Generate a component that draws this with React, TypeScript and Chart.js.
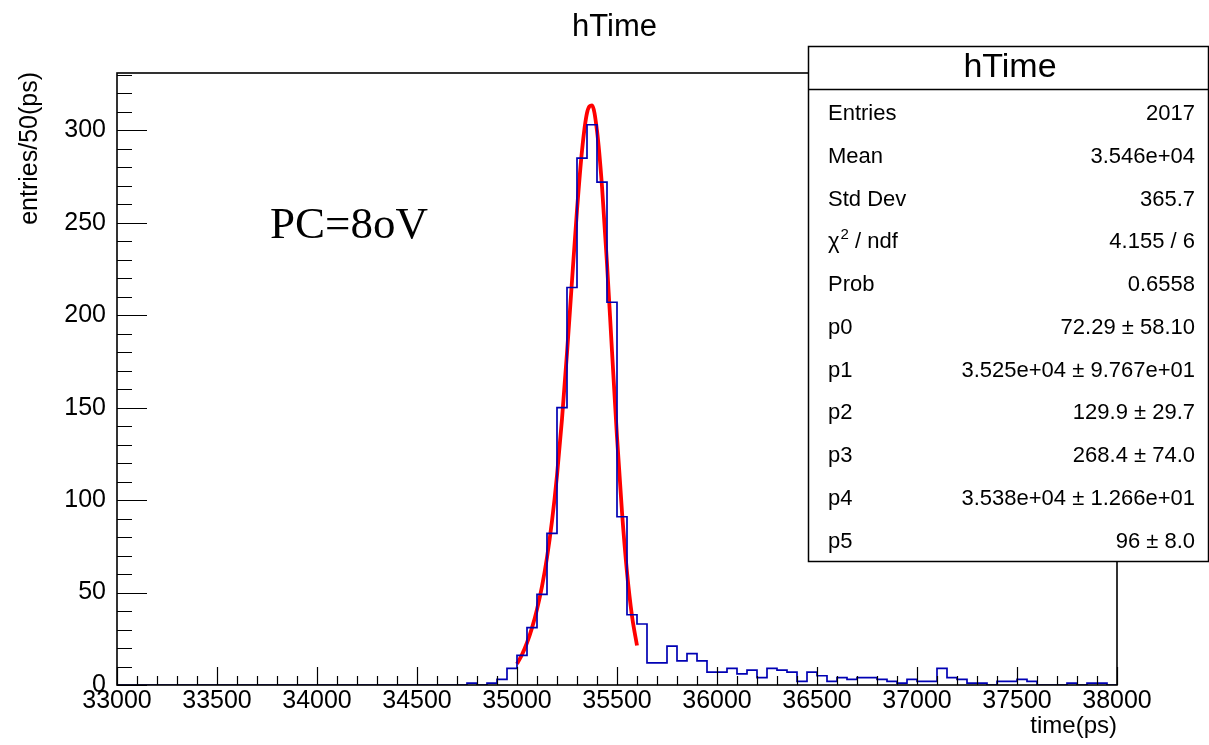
import React, { useEffect, useRef } from "react";
import { Chart, registerables } from "chart.js";

Chart.register(...registerables);

const X_MIN = 33000;
const X_MAX = 38000;
const BIN_WIDTH = 50;
const Y_MAX = 331;

const xTickValues = [33000, 33500, 34000, 34500, 35000, 35500, 36000, 36500, 37000, 37500, 38000];
const yTickValues = [0, 50, 100, 150, 200, 250, 300];

// entries per 50 ps bin, from 33000 to 38000
const binCounts = [
  0, 0, 0, 0, 0, 0, 0, 0, 0, 0,
  0, 0, 0, 0, 0, 0, 0, 0, 0, 0,
  0, 0, 0, 0, 0, 0, 0, 0, 0, 0,
  0, 0, 0, 0, 0, 1, 0, 1, 3, 9,
  16, 31, 49, 82, 150, 215, 285, 303, 272, 207,
  91, 38, 33, 12, 12, 21, 13, 17, 13, 7,
  7, 9, 6, 8, 4, 9, 8, 7, 2, 7,
  5, 2, 4, 3, 4, 4, 3, 2, 1, 3,
  2, 2, 9, 4, 3, 1, 1, 0, 2, 2,
  3, 2, 0, 0, 0, 1, 0, 1, 1, 0,
];

// fitted curve (red), sampled along the fit range
const fitX = [
  35000, 35025, 35050, 35075, 35100, 35125, 35150, 35175, 35200, 35225, 35250, 35275, 35300,
  35325, 35350, 35375, 35400, 35425, 35450, 35475, 35500, 35525, 35550, 35575, 35600,
];
const fitY = [
  11.45, 16.42, 22.83, 30.9, 40.93, 53.38, 68.98, 88.65, 113.4, 143.87, 179.57, 218.56, 256.81,
  288.98, 309.37, 313.54, 299.75, 269.66, 227.85, 180.62, 134.22, 93.47, 60.98, 37.26, 21.35,
];

const statLabels = ["Entries", "Mean", "Std Dev", "CHI2", "Prob", "p0", "p1", "p2", "p3", "p4", "p5"];
const statValues = [
  "2017",
  "3.546e+04",
  "365.7",
  "4.155 / 6",
  "0.6558",
  "72.29 ± 58.10",
  "3.525e+04 ± 9.767e+01",
  "129.9 ± 29.7",
  "268.4 ± 74.0",
  "3.538e+04 ± 1.266e+01",
  "96 ± 8.0",
];

const chartTitle = "hTime";
const xTitle = "time(ps)";
const yTitle = "entries/50(ps)";
const annotation = "PC=8oV";

const SANS = "'Liberation Sans', Arial, Helvetica, sans-serif";
const SERIF = "'Liberation Serif', 'Times New Roman', serif";

const rootPlugin = {
  id: "rootStyle",
  afterDatasetsDraw(chart: any) {
    const { ctx, chartArea: a, scales } = chart;
    const xs = scales.x;
    const ys = scales.y;
    ctx.save();
    ctx.strokeStyle = "#000";
    ctx.lineWidth = 1.2;
    ctx.beginPath();
    for (let v = X_MIN; v <= X_MAX; v += 100) {
      const px = Math.round(xs.getPixelForValue(v)) + 0.5;
      const len = v % 500 === 0 ? 18 : 9;
      ctx.moveTo(px, a.bottom);
      ctx.lineTo(px, a.bottom - len);
    }
    for (let v = 0; v <= Y_MAX; v += 10) {
      const py = Math.round(ys.getPixelForValue(v)) + 0.5;
      const len = v % 50 === 0 ? 30 : 15;
      ctx.moveTo(a.left, py);
      ctx.lineTo(a.left + len, py);
    }
    ctx.stroke();
    ctx.lineWidth = 1.6;
    ctx.strokeRect(a.left, a.top, a.right - a.left, a.bottom - a.top);
    ctx.restore();
  },
  afterDraw(chart: any) {
    const { ctx, chartArea: a } = chart;
    ctx.save();
    ctx.fillStyle = "#000";
    // chart title
    ctx.font = `31px ${SANS}`;
    ctx.textAlign = "center";
    ctx.textBaseline = "alphabetic";
    ctx.fillText(chartTitle, 614.5, 36);
    // x title
    ctx.font = `24px ${SANS}`;
    ctx.textAlign = "right";
    ctx.fillText(xTitle, a.right, 733);
    // y title
    ctx.save();
    ctx.font = `25px ${SANS}`;
    ctx.translate(37, a.top - 1);
    ctx.rotate(-Math.PI / 2);
    ctx.textAlign = "right";
    ctx.fillText(yTitle, 0, 0);
    ctx.restore();
    // annotation
    ctx.font = `45px ${SERIF}`;
    ctx.textAlign = "left";
    ctx.fillText(annotation, 270, 238);

    // stats box
    const bx = 808.5, by = 46.5, bw = 400, bh = 515;
    ctx.fillStyle = "#fff";
    ctx.fillRect(bx, by, bw, bh);
    ctx.strokeStyle = "#000";
    ctx.lineWidth = 1.5;
    ctx.strokeRect(bx, by, bw, bh);
    ctx.beginPath();
    ctx.moveTo(bx, 89.5);
    ctx.lineTo(bx + bw, 89.5);
    ctx.stroke();
    ctx.fillStyle = "#000";
    ctx.font = `34px ${SANS}`;
    ctx.textAlign = "center";
    ctx.fillText(chartTitle, 1010, 77);
    for (let i = 0; i < statLabels.length; i++) {
      const base = 120 + 42.75 * i;
      ctx.font = `22px ${SANS}`;
      ctx.textAlign = "left";
      if (statLabels[i] === "CHI2") {
        let x0 = 828;
        ctx.fillText("χ", x0, base);
        x0 += ctx.measureText("χ").width + 1;
        ctx.font = `15px ${SANS}`;
        ctx.fillText("2", x0, base - 9);
        x0 += ctx.measureText("2").width;
        ctx.font = `22px ${SANS}`;
        ctx.fillText(" / ndf", x0, base);
      } else {
        ctx.fillText(statLabels[i], 828, base);
      }
      ctx.textAlign = "right";
      ctx.fillText(statValues[i], 1195, base);
    }
    ctx.restore();
  },
};

export default function App() {
  const canvasRef = useRef<HTMLCanvasElement | null>(null);

  useEffect(() => {
    const canvas = canvasRef.current;
    if (!canvas) return;
    const histPoints = binCounts.map((c, i) => ({ x: X_MIN + i * BIN_WIDTH, y: c }));
    histPoints.push({ x: X_MAX, y: binCounts[binCounts.length - 1] });
    const fitPoints = fitX.map((x, i) => ({ x, y: fitY[i] }));

    const chart = new Chart(canvas, {
      type: "line",
      data: {
        datasets: [
          {
            label: "hTime",
            data: histPoints,
            stepped: "before",
            borderColor: "#0000b4",
            borderWidth: 1.7,
            pointRadius: 0,
            fill: false,
          },
          {
            label: "fit",
            data: fitPoints,
            borderColor: "#ff0000",
            borderWidth: 3.8,
            pointRadius: 0,
            fill: false,
            cubicInterpolationMode: "monotone",
          },
        ],
      },
      options: {
        responsive: false,
        animation: false,
        devicePixelRatio: 1,
        layout: { padding: { top: 73, right: 92, left: 0, bottom: 0 } },
        plugins: {
          legend: { display: false },
          title: { display: false },
          tooltip: { enabled: false },
        },
        scales: {
          x: {
            type: "linear",
            min: X_MIN,
            max: X_MAX,
            grid: { display: false, drawTicks: false },
            border: { display: false },
            afterBuildTicks: (scale: any) => {
              scale.ticks = xTickValues.map((v) => ({ value: v }));
            },
            afterFit: (scale: any) => {
              scale.height = 60;
            },
            ticks: {
              autoSkip: false,
              maxRotation: 0,
              minRotation: 0,
              padding: 1,
              color: "#000",
              font: { family: SANS, size: 25 },
              callback: (v: any) => String(v),
            },
          },
          y: {
            type: "linear",
            min: 0,
            max: Y_MAX,
            grid: { display: false, drawTicks: false },
            border: { display: false },
            afterBuildTicks: (scale: any) => {
              scale.ticks = yTickValues.map((v) => ({ value: v }));
            },
            afterFit: (scale: any) => {
              scale.width = 117;
            },
            ticks: {
              autoSkip: false,
              padding: 11,
              color: "#000",
              font: { family: SANS, size: 25 },
              callback: (v: any) => String(v),
            },
          },
        },
      },
      plugins: [rootPlugin],
    });
    return () => chart.destroy();
  }, []);

  return (
    <div style={{ position: "fixed", left: 0, top: 0, width: 1209, height: 745, background: "#fff" }}>
      <canvas ref={canvasRef} width={1209} height={745} style={{ display: "block" }} />
    </div>
  );
}
